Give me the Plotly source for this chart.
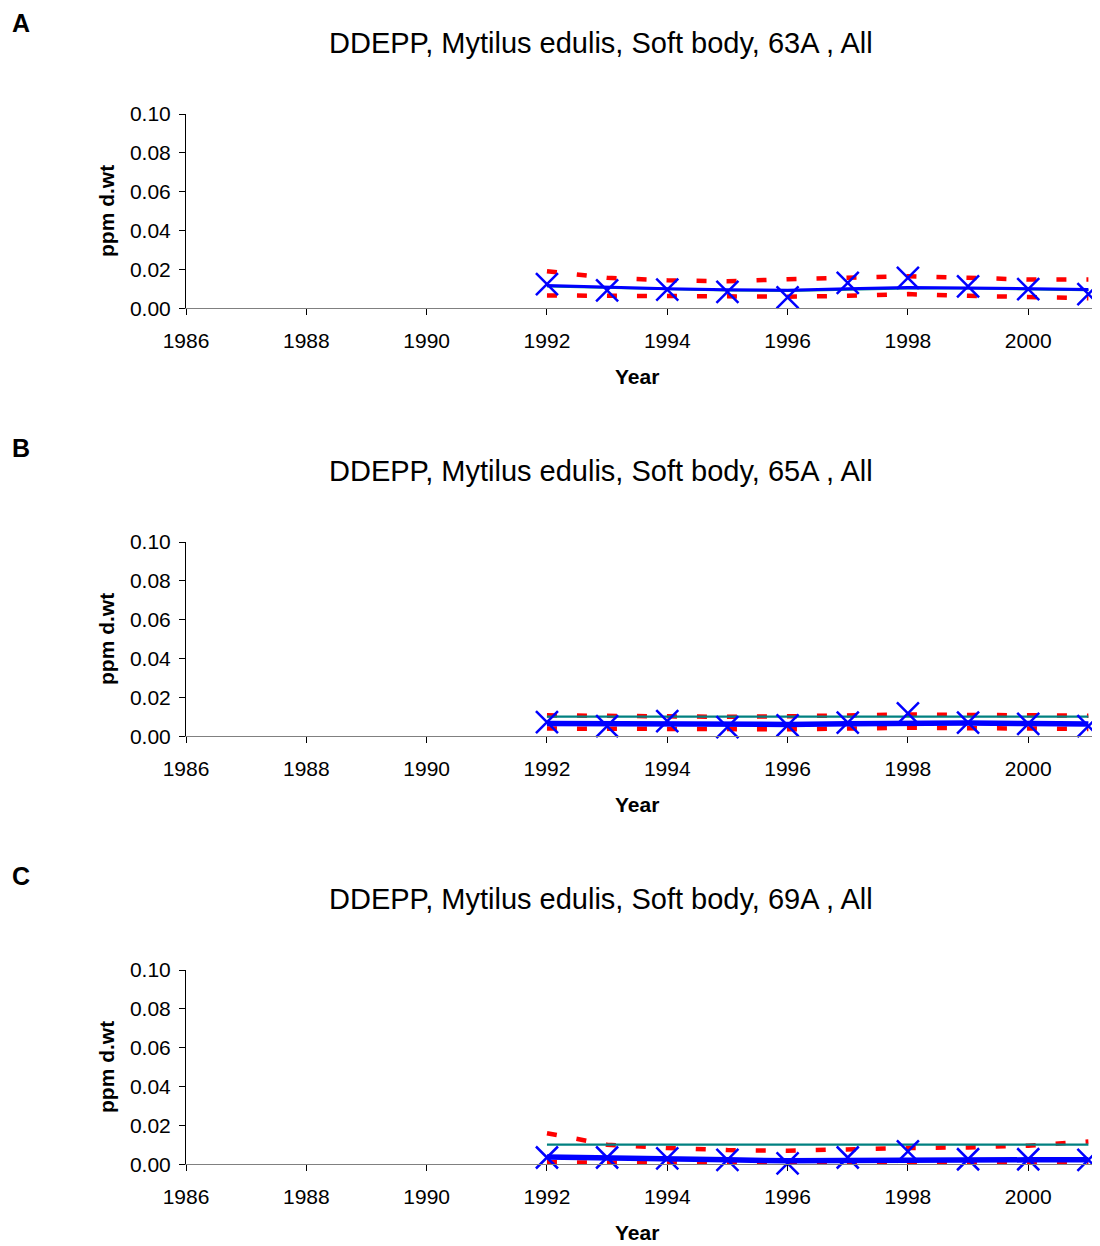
import plotly.graph_objects as go

# page offset: the browser body has an 8px margin
OFF = 8
W, H = 1100 - OFF, 1246 - OFF

years = [1992, 1993, 1994, 1995, 1996, 1997, 1998, 1999, 2000, 2001]

stations = ["63A", "65A", "69A"]
letters = ["A", "B", "C"]

# Panel A (63A)
obs_63A = [0.0125, 0.0092, 0.0096, 0.0084, 0.0056, 0.0131, 0.0157, 0.0113, 0.0099, 0.0073]
trend_63A = [0.0117, 0.0108, 0.0100, 0.0095, 0.0093, 0.0100, 0.0107, 0.0105, 0.0101, 0.0097]
ref_63A = [0.0113, 0.0105, 0.0097, 0.0092, 0.0090, 0.0097, 0.0103, 0.0102, 0.0098, 0.0094]
upper_63A = [0.0191, 0.0157, 0.0144, 0.0139, 0.0150, 0.0160, 0.0165, 0.0157, 0.0148, 0.0148]
lower_63A = [0.0066, 0.0064, 0.0061, 0.0057, 0.0060, 0.0064, 0.0073, 0.0064, 0.0057, 0.0052]

# Panel B (65A)
obs_65A = [0.0073, 0.0052, 0.0078, 0.0047, 0.0056, 0.0070, 0.0118, 0.0070, 0.0064, 0.0052]
trend_65A = [0.0066, 0.0063, 0.0061, 0.0058, 0.0061, 0.0065, 0.0069, 0.0068, 0.0066, 0.0063]
ref_65A = [0.0101, 0.0101, 0.0101, 0.0101, 0.0101, 0.0101, 0.0101, 0.0101, 0.0101, 0.0101]
upper_65A = [0.0108, 0.0105, 0.0102, 0.0100, 0.0103, 0.0107, 0.0112, 0.0110, 0.0108, 0.0106]
lower_65A = [0.0040, 0.0038, 0.0036, 0.0034, 0.0036, 0.0040, 0.0044, 0.0042, 0.0040, 0.0038]

# Panel C (69A)
obs_69A = [0.0035, 0.0035, 0.0031, 0.0023, 0.0005, 0.0035, 0.0066, 0.0026, 0.0026, 0.0023]
trend_69A = [0.0038, 0.0031, 0.0026, 0.0023, 0.0018, 0.0021, 0.0023, 0.0023, 0.0023, 0.0023]
ref_69A = [0.0101, 0.0101, 0.0101, 0.0101, 0.0101, 0.0101, 0.0101, 0.0101, 0.0101, 0.0101]
upper_69A = [0.0160, 0.0101, 0.0084, 0.0073, 0.0070, 0.0078, 0.0084, 0.0087, 0.0096, 0.0117]
lower_69A = [0.0010, 0.0009, 0.0008, 0.0007, 0.0006, 0.0007, 0.0008, 0.0008, 0.0008, 0.0008]

obs = [obs_63A, obs_65A, obs_69A]
trend = [trend_63A, trend_65A, trend_69A]
ref = [ref_63A, ref_65A, ref_69A]
upper = [upper_63A, upper_65A, upper_69A]
lower = [lower_63A, lower_65A, lower_69A]

y_ticks = [0.0, 0.02, 0.04, 0.06, 0.08, 0.10]
x_ticks = [1986, 1988, 1990, 1992, 1994, 1996, 1998, 2000]

FONT = "Liberation Sans, Arial, sans-serif"

def px_x(x):
    return (x - OFF) / W

def px_y(y):
    return 1 - (y - OFF) / H

# screen pixel positions of each panel (top, bottom)
panel_px = [(114, 308.3), (542, 736.3), (970, 1164.3)]
x_left, x_right = 186, 1092
trend_width = [3, 5.5, 5.5]

fig = go.Figure()
annotations = []

for i in range(3):
    xa = "x" if i == 0 else f"x{i+1}"
    ya = "y" if i == 0 else f"y{i+1}"
    for band in (upper[i], lower[i]):
        fig.add_trace(go.Scatter(
            x=years, y=band, mode="lines", xaxis=xa, yaxis=ya,
            line=dict(color="#FF0000", width=4.5, dash="10px,20px"),
            showlegend=False, hoverinfo="skip", cliponaxis=False))
    fig.add_trace(go.Scatter(
        x=years, y=ref[i], mode="lines", xaxis=xa, yaxis=ya,
        line=dict(color="#008080", width=2.2),
        showlegend=False, cliponaxis=False))
    fig.add_trace(go.Scatter(
        x=years, y=trend[i], mode="lines", xaxis=xa, yaxis=ya,
        line=dict(color="#0000FF", width=trend_width[i]),
        showlegend=False, cliponaxis=False))
    fig.add_trace(go.Scatter(
        x=years, y=obs[i], mode="markers", xaxis=xa, yaxis=ya,
        marker=dict(symbol="x-thin", size=22, line=dict(color="#0000FF", width=2.5)),
        showlegend=False, cliponaxis=False))

    top, bot = panel_px[i]
    offset = i * 428
    xaxis = dict(
        domain=[px_x(x_left), px_x(x_right)],
        range=[1986, 2001.06],
        tickvals=x_ticks, ticktext=[str(t) for t in x_ticks],
        ticks="outside", ticklen=6, tickcolor="#000000", tickwidth=1,
        ticklabelstandoff=7,
        showline=True, linecolor="#808080", linewidth=1.3,
        showgrid=False, zeroline=False, automargin=False,
        anchor=ya,
        tickfont=dict(family=FONT, size=21, color="#000000"),
    )
    yaxis = dict(
        domain=[px_y(bot), px_y(top)],
        range=[0, 0.1],
        tickvals=y_ticks, ticktext=[f"{v:.2f}" for v in y_ticks],
        ticks="outside", ticklen=6, tickcolor="#000000", tickwidth=1,
        ticklabelstandoff=4,
        showline=True, linecolor="#000000", linewidth=1,
        showgrid=False, zeroline=False, automargin=False,
        anchor=xa,
        tickfont=dict(family=FONT, size=21, color="#000000"),
    )
    fig.update_layout(**{("xaxis" if i == 0 else f"xaxis{i+1}"): xaxis,
                         ("yaxis" if i == 0 else f"yaxis{i+1}"): yaxis})

    annotations.append(dict(
        text=f"DDEPP, Mytilus edulis, Soft body, {stations[i]} , All",
        x=px_x(601), y=px_y(43 + offset), xref="paper", yref="paper",
        xanchor="center", yanchor="middle", showarrow=False,
        font=dict(family=FONT, size=29, color="#000000")))
    if i == 0:
        letter_pos = dict(y=1.0, yanchor="top")
    else:
        letter_pos = dict(y=px_y(20 + offset), yanchor="middle")
    annotations.append(dict(
        text=f"<b>{letters[i]}</b>",
        x=px_x(21), xref="paper", yref="paper", xanchor="center",
        showarrow=False, borderpad=0,
        font=dict(family=FONT, size=25, color="#000000"), **letter_pos))
    annotations.append(dict(
        text="<b>Year</b>",
        x=px_x(637), y=px_y(376 + offset), xref="paper", yref="paper",
        xanchor="center", yanchor="middle", showarrow=False,
        font=dict(family=FONT, size=21, color="#000000")))
    annotations.append(dict(
        text="<b>ppm d.wt</b>",
        x=px_x(106), y=px_y(211 + offset), xref="paper", yref="paper",
        xanchor="center", yanchor="middle", showarrow=False, textangle=-90,
        font=dict(family=FONT, size=21, color="#000000")))

fig.update_layout(
    template="none",
    width=W, height=H,
    margin=dict(l=0, r=0, t=0, b=0, autoexpand=False),
    paper_bgcolor="#FFFFFF", plot_bgcolor="#FFFFFF",
    annotations=annotations,
    showlegend=False,
)

fig.write_html("out.html")
